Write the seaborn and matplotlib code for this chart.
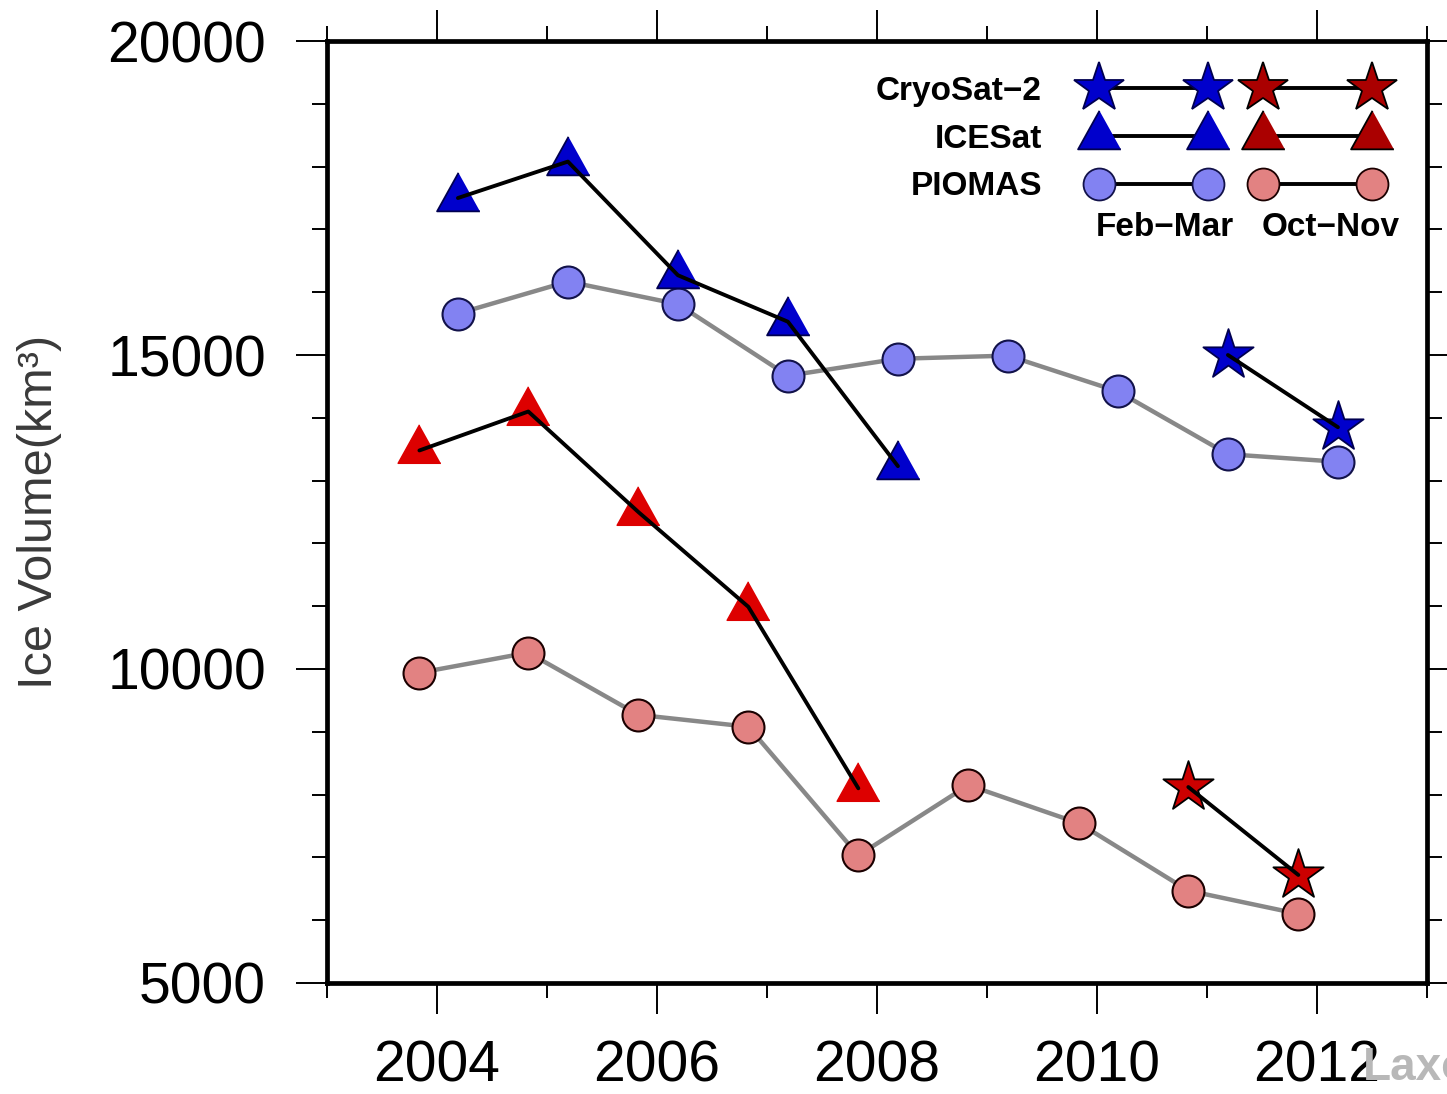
import numpy as np
import pandas as pd
import matplotlib
matplotlib.use('Agg')
import matplotlib.pyplot as plt
import seaborn as sns
from matplotlib.lines import Line2D
from matplotlib.ticker import MultipleLocator

# decimal years of the two campaign windows
feb_mar_years = [2004.19, 2005.19, 2006.19, 2007.19, 2008.19, 2009.19, 2010.19, 2011.19, 2012.19]
oct_nov_years = [2003.84, 2004.83, 2005.83, 2006.83, 2007.83, 2008.83, 2009.84, 2010.83, 2011.83]

# ice volume, km^3
piomas_fm = [15660, 16170, 15810, 14670, 14940, 14990, 14420, 13420, 13300]
piomas_on = [9940, 10260, 9270, 9080, 7030, 8150, 7540, 6470, 6100]
icesat_fm = [17500, 18080, 16270, 15530, 13230]
icesat_on = [13480, 14100, 12500, 10990, 8100]
cryosat_fm = [15000, 13850]
cryosat_on = [8120, 6720]

icesat_fm_years = feb_mar_years[:5]
icesat_on_years = oct_nov_years[:5]
cryosat_fm_years = feb_mar_years[7:]
cryosat_on_years = oct_nov_years[7:]

sns.set_style('ticks')
plt.rcParams['font.family'] = ['Liberation Sans', 'DejaVu Sans']
plt.rcParams['text.color'] = 'black'

# triangle with its centroid on the data point
tri = [(0, 1.2), (-1, -0.6), (1, -0.6)]

BLUE = '#0000CC'
RED = '#DD0000'
STAR_RED = '#CC0000'
LBLUE = '#8282F2'
PINK = '#E28282'

fig = plt.figure(figsize=(14.47, 10.94), dpi=100)
ax = fig.add_axes([0.226, 0.1015, 0.7602, 0.861])

# PIOMAS
sns.lineplot(x=feb_mar_years, y=piomas_fm, ax=ax, color='#888888', lw=3.2, zorder=2)
sns.lineplot(x=oct_nov_years, y=piomas_on, ax=ax, color='#888888', lw=3.2, zorder=2)
sns.scatterplot(x=feb_mar_years, y=piomas_fm, ax=ax, marker='o', s=23**2,
                color=LBLUE, edgecolor='#12124a', linewidth=1.5, zorder=3)
sns.scatterplot(x=oct_nov_years, y=piomas_on, ax=ax, marker='o', s=23**2,
                color=PINK, edgecolor='#1a0000', linewidth=1.5, zorder=3)

# ICESat
sns.scatterplot(x=icesat_fm_years, y=icesat_fm, ax=ax, marker=tri, s=37**2,
                color=BLUE, edgecolor='#000050', linewidth=1.3, zorder=4)
sns.scatterplot(x=icesat_on_years, y=icesat_on, ax=ax, marker=tri, s=37**2,
                color=RED, edgecolor=RED, linewidth=1.0, zorder=4)
sns.lineplot(x=icesat_fm_years, y=icesat_fm, ax=ax, color='black', lw=2.8, zorder=5)
sns.lineplot(x=icesat_on_years, y=icesat_on, ax=ax, color='black', lw=2.8, zorder=5)

# CryoSat-2
sns.scatterplot(x=cryosat_fm_years, y=cryosat_fm, ax=ax, marker='*', s=38**2,
                color=BLUE, edgecolor='#000050', linewidth=1.3, zorder=4)
sns.scatterplot(x=cryosat_on_years, y=cryosat_on, ax=ax, marker='*', s=38**2,
                color=STAR_RED, edgecolor='black', linewidth=1.3, zorder=4)
sns.lineplot(x=cryosat_fm_years, y=cryosat_fm, ax=ax, color='black', lw=2.8, zorder=5)
sns.lineplot(x=cryosat_on_years, y=cryosat_on, ax=ax, color='black', lw=2.8, zorder=5)

ax.set_xlim(2003, 2013)
ax.set_ylim(5000, 20000)
ax.xaxis.set_major_locator(MultipleLocator(2))
ax.xaxis.set_minor_locator(MultipleLocator(1))
ax.yaxis.set_major_locator(MultipleLocator(5000))
ax.yaxis.set_minor_locator(MultipleLocator(1000))
for s in ax.spines.values():
    s.set_visible(True)
    s.set_linewidth(3.4)
    s.set_color('black')
ax.tick_params(which='both', direction='out', top=True, right=True, width=1.4,
               labelsize=41, colors='black')
ax.tick_params(which='major', length=22, pad=19)
ax.tick_params(which='minor', length=11)
ax.tick_params(axis='y', which='major', pad=22)

ax.set_xlabel('')
ax.set_ylabel('Ice Volume(km³)', fontsize=35, color='#3a3a3a')
ax.yaxis.set_label_coords(-0.241, 0.5)

# legend: Feb-Mar column (blue) and Oct-Nov column (red)
def handle(marker, fc, ec, ms):
    return Line2D([0], [0], color='black', lw=2.8, marker=marker, markersize=ms,
                  markerfacecolor=fc, markeredgecolor=ec, markeredgewidth=1.3)

handles = [handle('*', BLUE, '#000050', 38), handle(tri, BLUE, '#000050', 37),
           handle('o', LBLUE, '#12124a', 23),
           handle('*', '#AA0000', 'black', 38), handle(tri, '#AA0000', 'black', 37),
           handle('o', PINK, '#1a0000', 23)]
labels = ['CryoSat−2', 'ICESat', 'PIOMAS', '', '', '']
ax.legend(handles, labels, ncol=2, numpoints=2, markerfirst=False, frameon=False,
          loc='upper right', bbox_to_anchor=(0.959, 0.963), borderpad=0,
          borderaxespad=0, handlelength=3.87, handletextpad=1.41,
          columnspacing=-0.36, labelspacing=0.5, labelcolor='black',
          prop={'weight': 'bold', 'size': 24})
ax.text(0.762, 0.8025, 'Feb−Mar', transform=ax.transAxes, ha='center', va='center',
        fontsize=24, fontweight='bold', color='black')
ax.text(0.912, 0.8025, 'Oct−Nov', transform=ax.transAxes, ha='center', va='center',
        fontsize=24, fontweight='bold', color='black')

fig.text(1363 / 1447, 1 - 1068 / 1094, 'Laxo', color='#b8b8b8', fontsize=33,
         fontweight='bold', va='center', ha='left')

fig.savefig('out.png', dpi=100)
